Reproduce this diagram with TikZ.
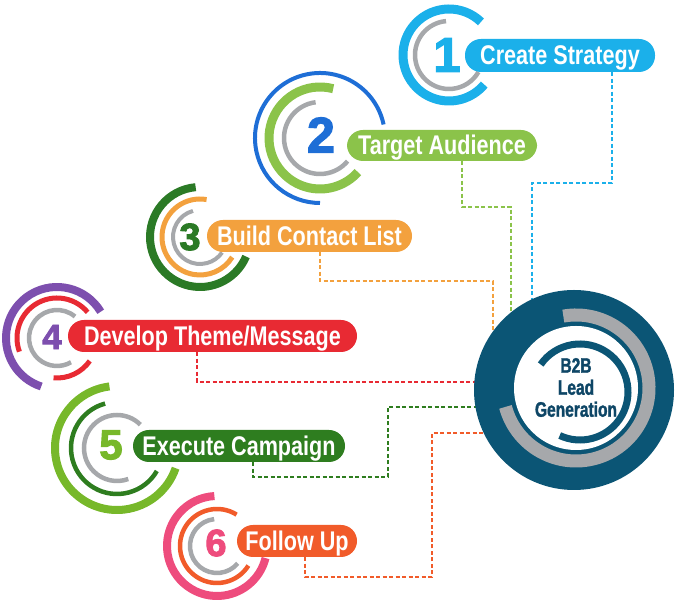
\documentclass[tikz,border=0pt]{standalone}
\usepackage{fontspec}
\setmainfont{Liberation Sans}
\newfontfamily\lblfont[FakeStretch=0.8]{Liberation Sans}
\newfontfamily\hubfont[FakeStretch=0.74, BoldFeatures={FakeBold=1.5}]{Liberation Sans}
\newfontfamily\numfont[BoldFeatures={FakeBold=2.5}]{Liberation Sans}
\usetikzlibrary{calc}
\definecolor{skyc}{RGB}{27,176,234}
\definecolor{bluec}{RGB}{30,110,214}
\definecolor{greenc}{RGB}{139,195,74}
\definecolor{grayc}{RGB}{166,168,171}
\definecolor{dgreenc}{RGB}{43,122,38}
\definecolor{orangec}{RGB}{243,161,62}
\definecolor{purplec}{RGB}{125,79,174}
\definecolor{redc}{RGB}{232,42,51}
\definecolor{limec}{RGB}{119,184,42}
\definecolor{dgreenb}{RGB}{46,125,31}
\definecolor{pinkc}{RGB}{238,76,125}
\definecolor{orangeb}{RGB}{241,91,42}
\definecolor{hubc}{RGB}{11,85,117}
\definecolor{hubtxt}{RGB}{14,70,102}
\newcommand\ringarc[5]{\draw[#5] ($(#1)+(#3:#2pt)$) arc[start angle=#3, end angle=#4, radius=#2pt];}
\begin{document}
\begin{tikzpicture}[x=1pt,y=1pt,
  pill/.style={rounded corners=16pt, minimum height=32pt, inner sep=0pt, text=white,
    font=\lblfont\bfseries\fontsize{27}{27}\selectfont, text height=19pt, text depth=0pt},
  num/.style={inner sep=0pt},
  conn/.style={line width=1.8pt, dash pattern=on 4pt off 2.5pt},
]
\useasboundingbox (0,0) rectangle (680,604);
% cluster centres
\coordinate (c1) at (449,549);
\coordinate (c2) at (320,466);
\coordinate (c3) at (200,367);
\coordinate (c4) at (57,266);
\coordinate (c5) at (117,156);
\coordinate (c6) at (217,58);
% arcs
\ringarc{c1}{46}{46}{320}{skyc, line width=9pt}
\ringarc{c1}{34}{95}{330}{grayc, line width=4.5pt}
\ringarc{c2}{65}{12}{270}{bluec, line width=4pt}
\ringarc{c2}{51}{75}{318}{greenc, line width=9pt}
\ringarc{c2}{36}{97}{320}{grayc, line width=4.5pt}
\ringarc{c3}{50}{95}{337}{dgreenc, line width=8pt}
\ringarc{c3}{38}{80}{328}{orangec, line width=5pt}
\ringarc{c3}{27}{105}{325}{grayc, line width=4pt}
\ringarc{c4}{51}{31}{252}{purplec, line width=8pt}
\ringarc{c4}{40}{40}{200}{redc, line width=5pt}
\ringarc{c4}{40}{265}{325}{redc, line width=5pt}
\ringarc{c4}{28}{50}{300}{grayc, line width=4.5pt}
\ringarc{c5}{62}{97}{341}{limec, line width=8pt}
\ringarc{c5}{46}{105}{330}{dgreenb, line width=4.5pt}
\ringarc{c5}{33}{45}{290}{grayc, line width=4.5pt}
\ringarc{c6}{50}{93}{346}{pinkc, line width=8pt}
\ringarc{c6}{37}{58}{328}{orangeb, line width=4.5pt}
\ringarc{c6}{27}{96}{320}{grayc, line width=4.5pt}
% pills
\node[pill, fill=skyc, minimum width=190pt, minimum height=33pt] (p1) at (560,548.5) {Create Strategy};
\node[pill, fill=greenc, minimum width=190pt, minimum height=31pt] (p2) at (442,458.5) {Target Audience};
\node[pill, fill=orangec, minimum width=205pt] (p3) at (309.5,368) {Build Contact List};
\node[pill, fill=redc, minimum width=289pt] (p4) at (212.5,268) {Develop Theme/Message};
\node[pill, fill=dgreenb, minimum width=212pt] (p5) at (239,158) {Execute Campaign};
\node[pill, fill=orangeb, minimum width=120pt] (p6) at (297,63) {Follow Up};
% numbers
\node[num, text=skyc, font=\numfont\bfseries\fontsize{49}{49}\selectfont] (n1) at (447,549) {1};
\node[num, text=bluec, font=\numfont\bfseries\fontsize{50}{50}\selectfont] (n2) at (321,469) {2};
\node[num, text=dgreenc, font=\numfont\bfseries\fontsize{38}{38}\selectfont] (n3) at (190,367) {3};
\node[num, text=purplec, font=\numfont\bfseries\fontsize{35}{35}\selectfont] (n4) at (52,267) {4};
\node[num, text=limec, font=\numfont\bfseries\fontsize{42}{42}\selectfont] (n5) at (111,159) {5};
\node[num, text=pinkc, font=\numfont\bfseries\fontsize{38}{38}\selectfont] (n6) at (216,61) {6};
% hub placeholder for connector targets
\node[circle, minimum size=200pt, inner sep=0pt] (hub) at (574,214) {};
% connectors
\draw[conn, skyc] ([xshift=52pt]p1.south) |- (532,421) |- (hub.center);
\draw[conn, greenc] ([xshift=20pt]p2.south) |- (511,397) |- (hub.center);
\draw[conn, orangec] ([xshift=10.5pt]p3.south) |- (493,323) |- (hub.center);
\draw[conn, redc] ([xshift=-15.5pt]p4.south) |- ($(hub.center)+(0,8)$);
\draw[conn, dgreenb] ([xshift=14pt]p5.south) |- (388,127) |- ($(hub.center)+(0,-17)$);
\draw[conn, orangeb] ([xshift=8pt]p6.south) |- (432,27) |- ($(hub.center)+(0,-43)$);
% hub drawing
\fill[hubc] (hub.center) circle[radius=100pt];
\fill[white] (576,216) circle[radius=62pt];
\ringarc{576,216}{73}{100}{-165}{grayc, line width=13pt}
\ringarc{580,212}{48}{145}{-115}{hubc, line width=7pt}
\node[font=\hubfont\bfseries\fontsize{21}{22}\selectfont, text=hubtxt, align=center, inner sep=0pt] (ht) at (576,216.5) {B2B\\Lead\\Generation};
\end{tikzpicture}
\end{document}
